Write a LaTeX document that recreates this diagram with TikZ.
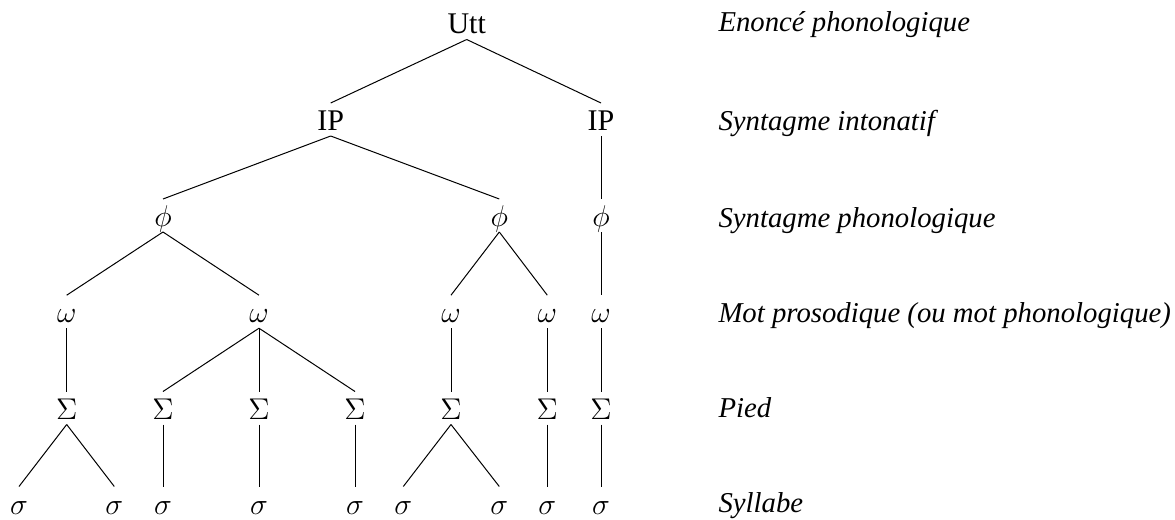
\documentclass[tikz,border=0pt]{standalone}
\usepackage{amsmath,amssymb}
\usepackage{fontspec}
\setmainfont{Liberation Serif}
\usepackage{xcolor}
\usepackage{tikz}

\begin{document}
\begin{tikzpicture}[x=0.4pt,y=0.4pt,yscale=-1,xscale=1,
  tn/.style={anchor=base,inner sep=1pt,text height=9.8pt,text depth=1pt,font=\fontsize{12}{14}\selectfont},
  lbl/.style={anchor=base west,inner sep=0pt,font=\fontsize{11.5}{14}\selectfont\itshape}]
\path[use as bounding box] (0,0) rectangle (1175,520);

% Text Node
\node [tn] (utt) at (466.7,34) {Utt};
% Text Node
\node [tn] (ipA) at (330.7,130.5) {IP};
\node [tn] (ipB) at (601,130.5) {IP};
% Text Node
\node [tn] (phiA) at (163,226.5) {$\phi$};
\node [tn] (phiB) at (499.3,226.5) {$\phi$};
\node [tn] (phiC) at (601,226.5) {$\phi$};
% Text Node
\node [tn] (omA) at (66.7,322.7) {$\omega$};
\node [tn] (omB) at (259,322.7) {$\omega$};
\node [tn] (omC) at (451,322.7) {$\omega$};
\node [tn] (omD) at (547.3,322.7) {$\omega$};
\node [tn] (omE) at (601,322.7) {$\omega$};
% Text Node
\node [tn] (ftA) at (66.7,419) {$\Sigma$};
\node [tn] (ftB) at (163,419) {$\Sigma$};
\node [tn] (ftC) at (259,419) {$\Sigma$};
\node [tn] (ftD) at (355,419) {$\Sigma$};
\node [tn] (ftE) at (451,419) {$\Sigma$};
\node [tn] (ftF) at (547.3,419) {$\Sigma$};
\node [tn] (ftG) at (601,419) {$\Sigma$};
% Text Node
\node [tn] (syA) at (19,514) {$\sigma$};
\node [tn] (syB) at (114.3,514) {$\sigma$};
\node [tn] (syC) at (163,514) {$\sigma$};
\node [tn] (syD) at (259,514) {$\sigma$};
\node [tn] (syE) at (355,514) {$\sigma$};
\node [tn] (syF) at (403.3,514) {$\sigma$};
\node [tn] (syG) at (499.3,514) {$\sigma$};
\node [tn] (syH) at (547.3,514) {$\sigma$};
\node [tn] (syI) at (601,514) {$\sigma$};

%Straight Lines
\draw (utt.south) -- (ipA.north);
\draw (utt.south) -- (ipB.north);
\draw (ipA.south) -- (phiA.north);
\draw (ipA.south) -- (phiB.north);
\draw (ipB.south) -- (phiC.north);
\draw (phiA.south) -- (omA.north);
\draw (phiA.south) -- (omB.north);
\draw (phiB.south) -- (omC.north);
\draw (phiB.south) -- (omD.north);
\draw (phiC.south) -- (omE.north);
\draw (omA.south) -- (ftA.north);
\draw (omB.south) -- (ftB.north);
\draw (omB.south) -- (ftC.north);
\draw (omB.south) -- (ftD.north);
\draw (omC.south) -- (ftE.north);
\draw (omD.south) -- (ftF.north);
\draw (omE.south) -- (ftG.north);
\draw (ftA.south) -- (syA.north);
\draw (ftA.south) -- (syB.north);
\draw (ftB.south) -- (syC.north);
\draw (ftC.south) -- (syD.north);
\draw (ftD.south) -- (syE.north);
\draw (ftE.south) -- (syF.north);
\draw (ftE.south) -- (syG.north);
\draw (ftF.south) -- (syH.north);
\draw (ftG.south) -- (syI.north);

% Text Node
\node [lbl] (labUtt) at (718,32) {Enoncé phonologique};
\node [lbl] (labIP) at (718,130) {Syntagme intonatif};
\node [lbl] (labPhi) at (718,227) {Syntagme phonologique};
\node [lbl] (labOm) at (718,322) {Mot prosodique (ou mot phonologique)};
\node [lbl] (labFt) at (718,417) {Pied};
\node [lbl] (labSy) at (718,512) {Syllabe};
\end{tikzpicture}
\end{document}
